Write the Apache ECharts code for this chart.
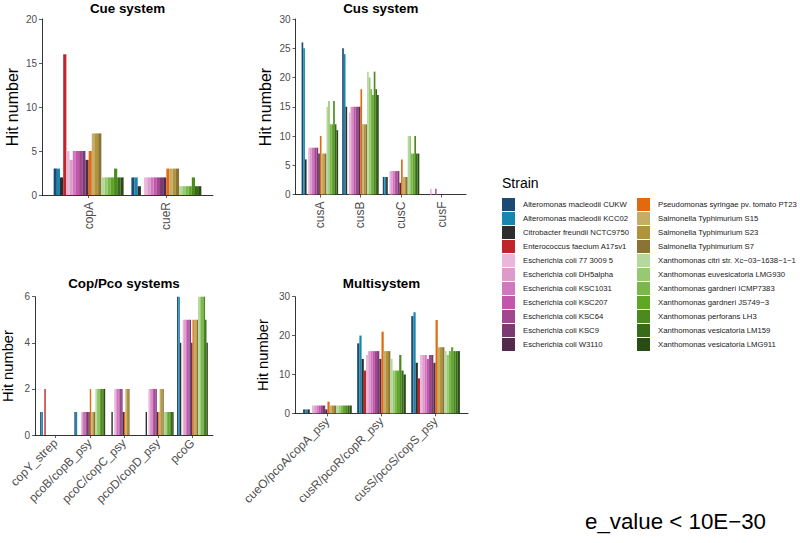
<!DOCTYPE html>
<html><head><meta charset="utf-8">
<script src="https://cdn.jsdelivr.net/npm/echarts@6/dist/echarts.min.js"></script>
<style>html,body{margin:0;padding:0;background:#fff}#chart{width:800px;height:543px}</style>
</head><body><div id="chart"></div>
<script>
// ---------- DATA ----------
const strains = [
  'Alteromonas macleodii CUKW','Alteromonas macleodii KCC02','Citrobacter freundii NCTC9750',
  'Enterococcus faecium A17sv1','Escherichia coli 77 3009 5','Escherichia coli DH5alpha',
  'Escherichia coli KSC1031','Escherichia coli KSC207','Escherichia coli KSC64',
  'Escherichia coli KSC9','Escherichia coli W3110','Pseudomonas syringae pv. tomato PT23',
  'Salmonella Typhimurium S15','Salmonella Typhimurium S23','Salmonella Typhimurium S7',
  'Xanthomonas citri str. Xc\u221203\u22121638\u22121\u22121','Xanthomonas euvesicatoria LMG930',
  'Xanthomonas gardneri ICMP7383','Xanthomonas gardneri JS749\u22123','Xanthomonas perforans LH3',
  'Xanthomonas vesicatoria LM159','Xanthomonas vesicatoria LMG911'
];
const strainColors = [
  '#1c4a72','#1787b0','#2d2d2d','#c0252b','#e9b7da','#dd9bcb','#d077bf','#c455ad',
  '#a1478f','#7b3a71','#532a4b','#e2690d','#c5ad66','#b0933d','#8b7333','#b7d89d',
  '#97c872','#7ab84b','#5ea826','#4b8a1f','#386b19','#294c13'
];

// Cue system
const cueCategories = ['copA','cueR'];
const cueCopA = [3,3,2,16,5,4,5,5,5,5,4,5,7,7,7,2,2,2,2,3,2,2];
const cueCueR = [2,2,1,0,2,2,2,2,2,2,2,3,3,3,3,1,1,1,1,2,1,1];
const cueTicks = [0,5,10,15,20];

// Cus system
const cusCategories = ['cusA','cusB','cusC','cusF'];
const cusA = [26,25,6,0,8,8,8,8,8,8,7,10,7,7,7,15,16,12,12,16,12,11];
const cusB = [25,24,15,0,14,15,15,15,15,15,15,18,12,12,12,21,20,18,17,21,18,17];
const cusC = [3,3,3,0,4,4,4,4,4,4,2,6,3,3,3,10,10,7,7,10,7,7];
const cusF = [0,0,0,0,1,0,0,1,0,0,0,0,0,0,0,0,0,0,0,0,0,0];
const cusTicks = [0,5,10,15,20,25,30];

// Cop/Pco systems
const copCategories = ['copY_strep','pcoB/copB_psy','pcoC/copC_psy','pcoD/copD_psy','pcoG'];
const copY = [1,1,0,2,0,0,0,0,0,0,0,0,0,0,0,0,0,0,0,0,0,0];
const pcoB = [1,1,0,0,0,1,1,1,1,1,1,2,1,1,1,2,2,2,2,2,2,2];
const pcoC = [0,0,1,0,2,2,2,2,2,2,1,1,2,2,2,0,0,0,0,0,0,0];
const pcoD = [0,0,1,0,2,2,2,2,2,2,1,1,2,2,2,1,1,1,1,1,1,1];
const pcoG = [6,6,4,0,5,5,5,5,5,5,4,5,5,5,5,6,6,6,6,6,5,4];
const copTicks = [0,2,4,6];

// Multisystem
const multiCategories = ['cueO/pcoA/copA_psy','cusR/pcoR/copR_psy','cusS/pcoS/copS_psy'];
const cueO = [1,1,1,0,2,2,2,2,2,2,1,3,2,2,2,2,2,2,2,2,2,2];
const cusR = [18,20,14,11,15,16,16,16,16,16,14,21,16,16,16,14,11,11,11,15,11,10];
const cusS = [25,26,13,9,15,15,15,14,15,15,13,24,17,17,17,16,15,16,17,16,16,16];
const multiTicks = [0,10,20,30];

const panelTitles = ['Cue system','Cus system','Cop/Pco systems','Multisystem'];
const yTitle = 'Hit number';
const legendTitle = 'Strain';
const noteText = 'e_value < 10E\u221230';

// ---------- FONTS ----------
const BASE = '"Liberation Sans", Arial, Helvetica, sans-serif';
function hasFont(name){
  const c = document.createElement('canvas').getContext('2d');
  const s = 'Alteromonas macleodii CUKW 0123456789';
  c.font = '20px monospace'; const w1 = c.measureText(s).width;
  c.font = '20px "' + name + '", monospace'; const w2 = c.measureText(s).width;
  return Math.abs(w1 - w2) > 0.5;
}
const NARROW_OK = hasFont('Liberation Sans Narrow');
const NARROW = NARROW_OK ? '"Liberation Sans Narrow", ' + BASE : BASE;
function fitSize(family, text, target){
  const c = document.createElement('canvas').getContext('2d');
  c.font = '10px ' + family;
  return 10 * target / c.measureText(text).width;
}
const legendFont = fitSize(NARROW, strains[15], 138);
const tickFont = NARROW_OK ? 11 : 10;

// ---------- LAYOUT ----------
const panels = [
  {cats: cueCategories, vals: [cueCopA, cueCueR], ticks: cueTicks, box: [42,213,19,195], rot: 90, titleY: 8, yt: [12,107,16]},
  {cats: cusCategories, vals: [cusA, cusB, cusC, cusF], ticks: cusTicks, box: [295.5,466,19,194.5], rot: 90, titleY: 8, yt: [265,107,16]},
  {cats: copCategories, vals: [copY, pcoB, pcoC, pcoD, pcoG], ticks: copTicks, box: [35,213,296.7,435], rot: 45, titleY: 283, yt: [8,366,14.7]},
  {cats: multiCategories, vals: [cueO, cusR, cusS], ticks: multiTicks, box: [295,468,296.7,413.3], rot: 45, titleY: 283, yt: [263,355,14.7]}
];

const grid = [], xAxis = [], yAxis = [], series = [], graphic = [];
panels.forEach((p, k) => {
  const [l, r, t, b] = p.box;
  const n = p.cats.length;
  const sp = (r - l) / (n + 0.2);
  const ymin = p.ticks[0], ymax = p.ticks[p.ticks.length - 1], iv = p.ticks[1] - p.ticks[0];
  grid.push({left: l, top: t, width: r - l, height: b - t});
  grid.push({left: l + 0.1 * sp, top: t, width: n * sp, height: b - t});
  const go = 2 * k, gi = 2 * k + 1;
  xAxis.push({gridIndex: go, type: 'value', min: 0, max: 1,
    axisLine: {show: true, lineStyle: {color: '#000', width: 0.8}},
    axisTick: {show: false}, axisLabel: {show: false}, splitLine: {show: false}});
  yAxis.push({gridIndex: go, type: 'value', min: ymin, max: ymax, interval: iv,
    axisLine: {show: true, lineStyle: {color: '#000', width: 0.8}},
    axisTick: {show: true, length: 3, lineStyle: {color: '#333', width: 0.8}},
    axisLabel: {color: '#4d4d4d', fontSize: tickFont, fontFamily: NARROW, margin: 5},
    splitLine: {show: false}});
  xAxis.push({gridIndex: gi, type: 'category', data: p.cats,
    axisLine: {show: false},
    axisTick: {show: true, alignWithLabel: true, length: 3, lineStyle: {color: '#333', width: 0.8}},
    axisLabel: {interval: 0, rotate: p.rot, color: '#4d4d4d', fontSize: 12, fontFamily: BASE, margin: p.rot === 90 ? 7 : 6},
    splitLine: {show: false}});
  yAxis.push({gridIndex: gi, type: 'value', min: ymin, max: ymax, interval: iv, show: false});
  strains.forEach((s, i) => {
    series.push({type: 'bar', name: s, xAxisIndex: gi, yAxisIndex: gi,
      data: p.vals.map(a => a[i]), itemStyle: {color: strainColors[i]},
      barGap: '0%', barCategoryGap: '10%', emphasis: {disabled: true}, silent: true});
  });
  graphic.push({type: 'text', x: (l + r) / 2, y: p.titleY,
    style: {text: panelTitles[k], fontSize: 13.4, fontWeight: 'bold', fontFamily: BASE, fill: '#000',
      textAlign: 'center', textVerticalAlign: 'middle', align: 'center', verticalAlign: 'middle'}});
  graphic.push({type: 'text', x: p.yt[0], y: p.yt[1], rotation: Math.PI / 2,
    style: {text: yTitle, fontSize: p.yt[2], fontFamily: BASE, fill: '#000',
      textAlign: 'center', textVerticalAlign: 'middle', align: 'center', verticalAlign: 'middle'}});
});
graphic.push({type: 'text', x: 502, y: 183,
  style: {text: legendTitle, fontSize: 14, fontFamily: BASE, fill: '#000',
    textAlign: 'left', textVerticalAlign: 'middle', align: 'left', verticalAlign: 'middle'}});
graphic.push({type: 'text', x: 585, y: 521,
  style: {text: noteText, fontSize: 22.3, fontFamily: BASE, fill: '#000',
    textAlign: 'left', textVerticalAlign: 'middle', align: 'left', verticalAlign: 'middle'}});

const legendCommon = {orient: 'vertical', top: 198, itemWidth: 13, itemHeight: 13, itemGap: 1,
  icon: 'rect', selectedMode: false, padding: 0,
  textStyle: {fontSize: legendFont, fontFamily: NARROW, color: '#1a1a1a', padding: [0, 0, 0, 3]}};

const chart = echarts.init(document.getElementById('chart'), null, {renderer: 'svg'});
chart.setOption({
  animation: false,
  grid, xAxis, yAxis, series, graphic,
  legend: [
    Object.assign({left: 502, data: strains.slice(0, 11)}, legendCommon),
    Object.assign({left: 637, data: strains.slice(11)}, legendCommon)
  ]
});
</script>
</body></html>
